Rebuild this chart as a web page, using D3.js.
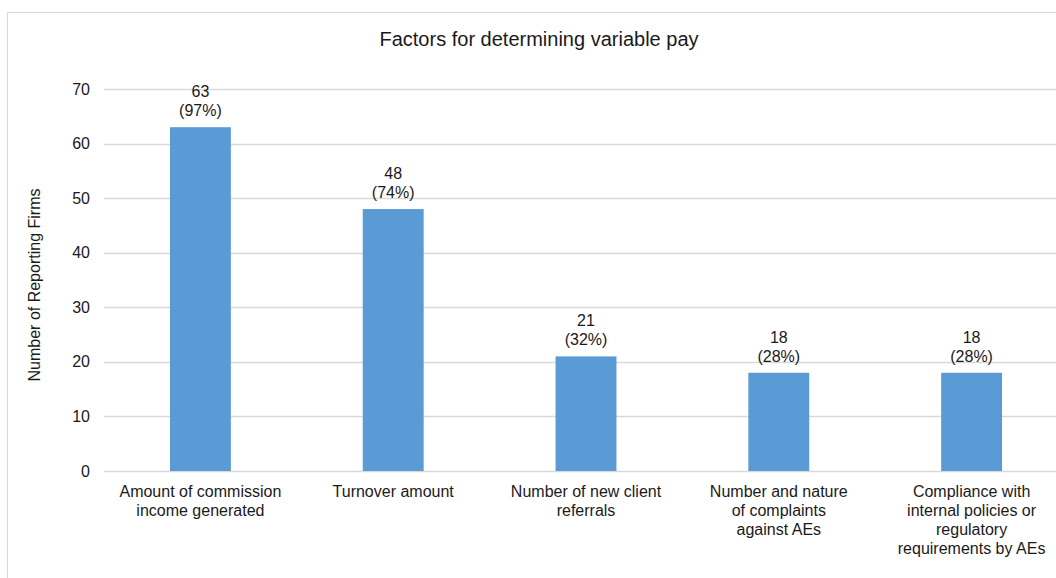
<!DOCTYPE html>
<html>
<head>
<meta charset="utf-8">
<script src="https://d3js.org/d3.v7.min.js"></script>
<style>
  body { margin: 0; background: #fff; }
  svg text { font-family: Arial, "Liberation Sans", sans-serif; fill: #1a1a1a; }
</style>
</head>
<body>
<svg width="1056" height="578"></svg>
<script>
const categories = [
  ["Amount of commission", "income generated"],
  ["Turnover amount"],
  ["Number of new client", "referrals"],
  ["Number and nature", "of complaints", "against AEs"],
  ["Compliance with", "internal policies or", "regulatory", "requirements by AEs"]
];
const firms = [63, 48, 21, 18, 18];
const percents = ["97%", "74%", "32%", "28%", "28%"];
const yTicks = [0, 10, 20, 30, 40, 50, 60, 70];

const svg = d3.select("svg");
const plotLeft = 104, plotRight = 1068, plotTop = 89, plotBottom = 471;

// chart border
svg.append("rect")
  .attr("x", 7.5).attr("y", 12.5)
  .attr("width", 1064).attr("height", 600)
  .attr("fill", "none").attr("stroke", "#d9d9d9");

svg.append("text")
  .attr("x", 539).attr("y", 46)
  .attr("text-anchor", "middle")
  .attr("font-size", "20px")
  .text("Factors for determining variable pay");

const x = d3.scaleBand()
  .domain(d3.range(categories.length))
  .range([plotLeft, plotRight])
  .paddingInner(0.684).paddingOuter(0.342);
const y = d3.scaleLinear().domain([0, 70]).range([plotBottom, plotTop]);

// gridlines
svg.append("g").selectAll("line")
  .data(yTicks).join("line")
  .attr("x1", plotLeft).attr("x2", plotRight)
  .attr("y1", d => Math.round(y(d)) + 0.5).attr("y2", d => Math.round(y(d)) + 0.5)
  .attr("stroke", "#d9d9d9").attr("stroke-width", 1.3);

// y tick labels
svg.append("g").selectAll("text")
  .data(yTicks).join("text")
  .attr("x", 90).attr("y", d => y(d))
  .attr("dy", "0.35em")
  .attr("text-anchor", "end")
  .attr("font-size", "16px")
  .text(d => d);

svg.append("text")
  .attr("transform", "translate(40,285) rotate(-90)")
  .attr("text-anchor", "middle")
  .attr("font-size", "16px")
  .text("Number of Reporting Firms");

// bars
svg.append("g").selectAll("rect")
  .data(firms).join("rect")
  .attr("x", (d, i) => x(i))
  .attr("y", d => y(d))
  .attr("width", x.bandwidth())
  .attr("height", d => y(0) - y(d))
  .attr("fill", "#5b9bd5");

// data labels
const lab = svg.append("g").selectAll("text")
  .data(firms).join("text")
  .attr("text-anchor", "middle")
  .attr("font-size", "16px");
lab.append("tspan")
  .attr("x", (d, i) => x(i) + x.bandwidth() / 2)
  .attr("y", d => y(d) - 30)
  .text(d => d);
lab.append("tspan")
  .attr("x", (d, i) => x(i) + x.bandwidth() / 2)
  .attr("y", d => y(d) - 11)
  .text((d, i) => "(" + percents[i] + ")");

// category labels
const cat = svg.append("g").selectAll("text")
  .data(categories).join("text")
  .attr("text-anchor", "middle")
  .attr("font-size", "16px");
cat.selectAll("tspan")
  .data((d, i) => d.map(s => ({ s, i })))
  .join("tspan")
  .attr("x", d => x(d.i) + x.bandwidth() / 2)
  .attr("y", (d, j) => 497 + j * 19)
  .text(d => d.s);
</script>
</body>
</html>
